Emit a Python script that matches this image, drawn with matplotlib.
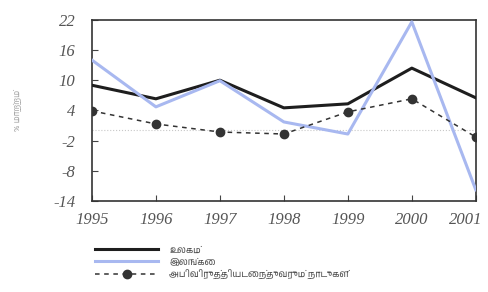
import matplotlib
matplotlib.use("Agg")
import matplotlib.pyplot as plt
import matplotlib.transforms as mtransforms
from matplotlib import font_manager

years = [1995, 1996, 1997, 1998, 1999, 2000, 2001]
world = [9.0, 6.3, 10.0, 4.5, 5.3, 12.4, 6.5]
sri_lanka = [14.0, 4.7, 9.9, 1.7, -0.7, 21.6, -11.8]
developing = [3.9, 1.3, -0.3, -0.7, 3.7, 6.3, -1.3]
yticks = [-14, -8, -2, 4, 10, 16, 22]
labels = ["உலகம்", "இலங்கை", "அபிவிருத்தியடைந்துவரும் நாடுகள்"]

names = sorted({f.name for f in font_manager.fontManager.ttflist})
tamil = [n for n in names if "Tamil" in n] + ["Noto Sans", "DejaVu Sans"]

fig = plt.figure(figsize=(4.89, 2.92), dpi=100)
ax = fig.add_axes([0.188, 0.312, 0.785, 0.62])

ax.axhline(0, color="#c8c8c8", lw=0.8, ls=":", zorder=1)
l1, = ax.plot(years, world, color="#1e1e1e", lw=2.2, zorder=3)
l2, = ax.plot(years, sri_lanka, color="#a8b8f0", lw=2.2, zorder=4)
l3, = ax.plot(years, developing, color="#333333", lw=1.1, ls=(0, (3, 3)),
              marker="o", ms=6, mfc="#333333", mec="#333333", zorder=5)

ax.set_xlim(1995, 2001)
ax.set_ylim(-14, 22)
ax.set_xticks(years)
ax.set_xticklabels([str(y) for y in years])
ax.set_yticks(yticks)
ax.set_yticklabels([str(v) for v in yticks])
ax.tick_params(direction="in", length=4, color="#444444")
ax.tick_params(axis="y", pad=12)
ax.tick_params(axis="x", pad=8)
for lab in ax.get_xticklabels() + ax.get_yticklabels():
    lab.set_fontfamily("Liberation Serif")
    lab.set_fontstyle("italic")
    lab.set_fontsize(12)
    lab.set_color("#555555")
# last year label sits a bit left so it fits in the picture
last = ax.get_xticklabels()[-1]
last.set_transform(last.get_transform() +
                   mtransforms.ScaledTranslation(-7 / 72, 0, fig.dpi_scale_trans))
for s in ax.spines.values():
    s.set_color("#333333")
    s.set_linewidth(1.2)

ax.set_ylabel("% மாற்றம்", family=tamil, fontsize=6, color="#aaaaaa", labelpad=22)

fig.legend([l1, l2, l3], labels, loc="upper left", bbox_to_anchor=(0.185, 0.175),
           frameon=False, prop={"family": tamil, "size": 6.5}, labelcolor="#555555",
           handlelength=7, labelspacing=0.35, borderpad=0, handletextpad=1.2)

fig.savefig("out.png", dpi=100)
